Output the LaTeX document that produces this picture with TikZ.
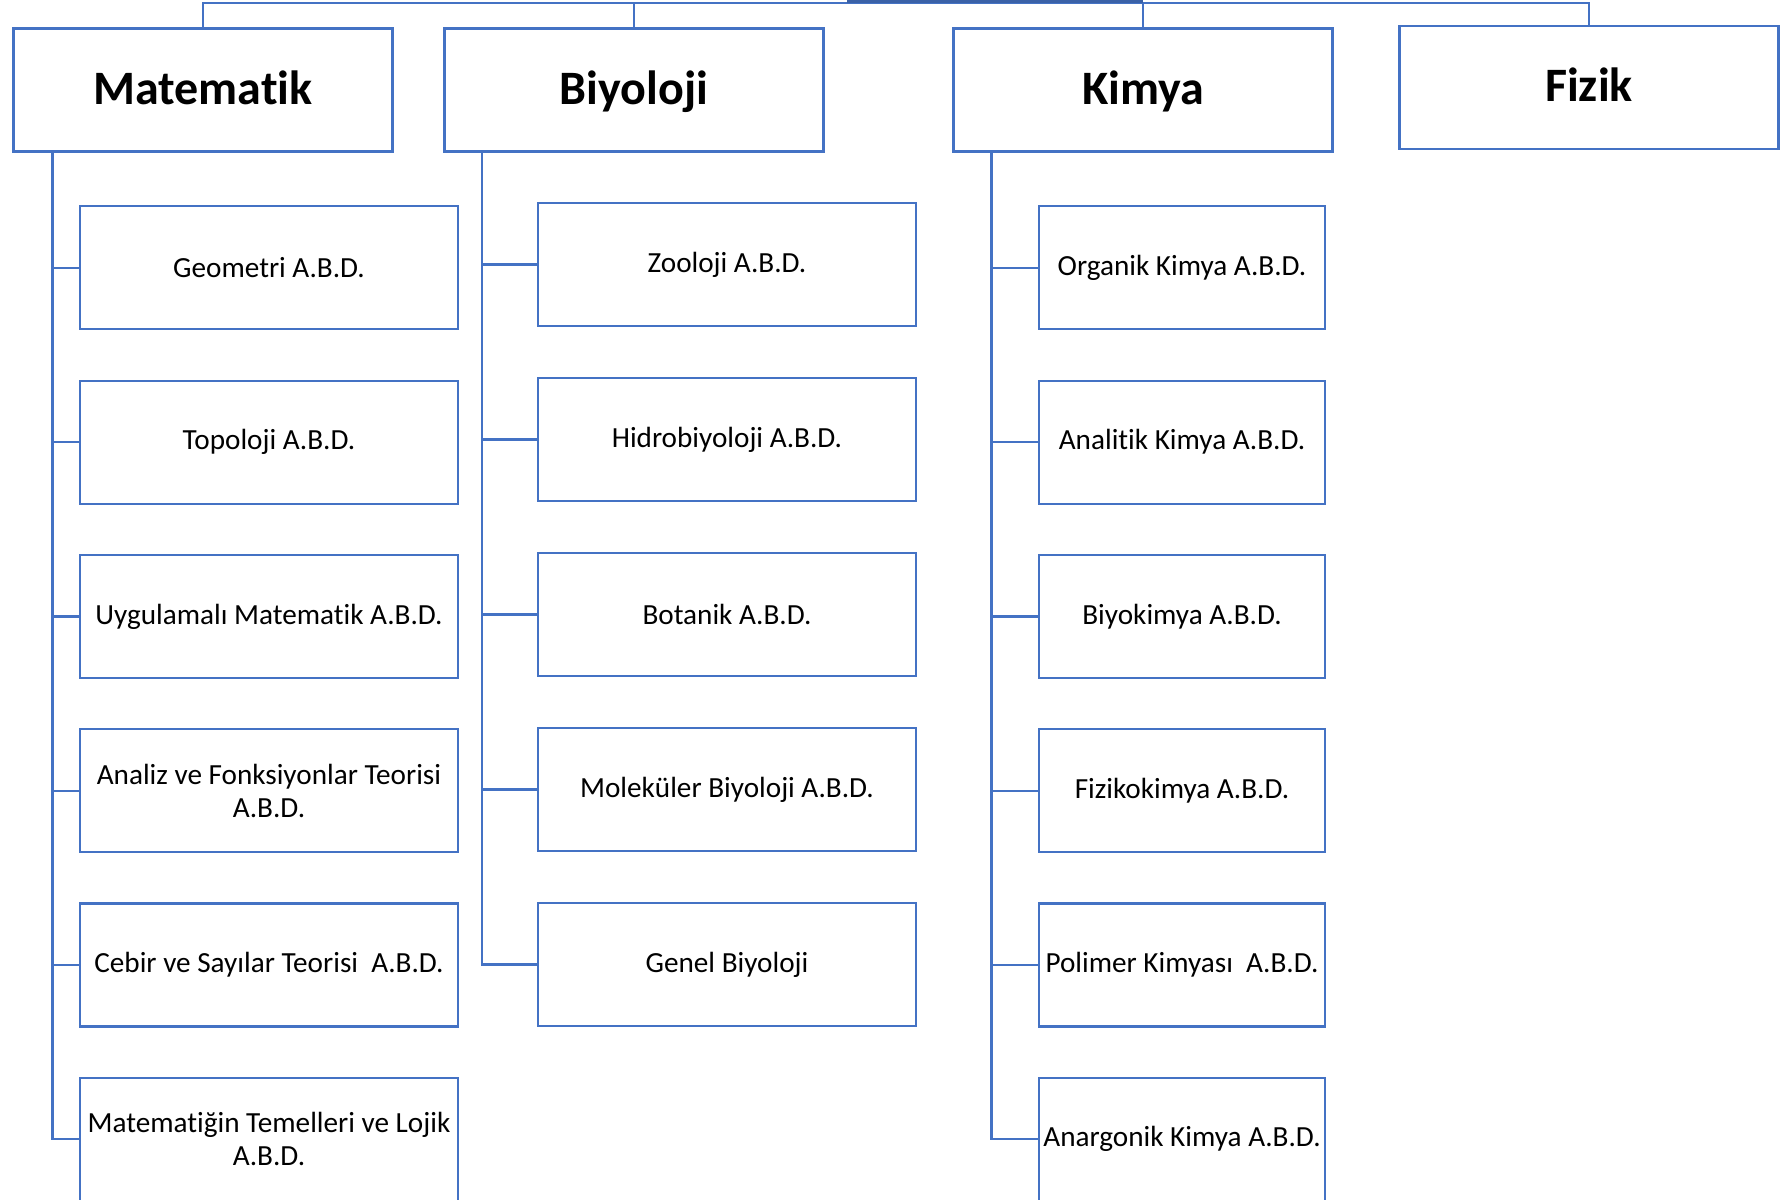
\documentclass[tikz,border=0pt]{standalone}
\usepackage{fontspec}
\setmainfont{Carlito}[Ligatures={NoCommon,NoContextual},Contextuals=NoAlternate]
\definecolor{boxblue}{HTML}{4472C4}

\begin{document}
\begin{tikzpicture}[x=0.5pt,y=-0.5pt,
    dept/.style={draw=boxblue,line width=1.1pt,fill=white,minimum width=189.5pt,minimum height=61.5pt,
      inner sep=1pt,text height=17pt,text depth=3pt,font=\fontsize{24}{28}\selectfont\bfseries},
    abd/.style={draw=boxblue,line width=1.1pt,fill=white,minimum width=189pt,minimum height=61.5pt,
      inner sep=0pt,align=center,font=\fontsize{14.6}{16.5}\selectfont},
    abdn/.style={abd,minimum width=143.3pt},
    link/.style={draw=boxblue,line width=1.1pt}]
    \useasboundingbox (0,0) rectangle (1787,1199);
    \clip (0,0) rectangle (1787,1199);
    \node[dept] (mat) at (203,90) {Matematik};
    \node[dept] (biy) at (634,90) {Biyoloji};
    \node[dept] (kim) at (1143,90) {Kimya};
    \node[dept] (fiz) at (1589,87.5) {Fizik};
    \coordinate (bus) at (0,3);
    \draw[link] (mat.north) -- (mat.north |- bus) -- (fiz.north |- bus) -- (fiz.north);
    \draw[link] (biy.north) -- (biy.north |- bus);
    \draw[link] (kim.north) -- (kim.north |- bus);
    \draw[link,line width=1.8pt,draw=boxblue!85!black] (847,1.5) -- (kim.north |- 0,1.5);

    \node[abd] (geo) at (269,267.8) {Geometri A.B.D.};
    \node[abd] (top) at (269,442.1) {Topoloji A.B.D.};
    \node[abd] (uyg) at (269,616.4) {Uygulamalı Matematik A.B.D.};
    \node[abd] (ana) at (269,790.7) {Analiz ve Fonksiyonlar Teorisi\\A.B.D.};
    \node[abd] (ceb) at (269,965) {Cebir ve Sayılar Teorisi\ \ A.B.D.};
    \node[abd] (tem) at (269,1139.3) {Matematiğin Temelleri ve Lojik\\A.B.D.};
    \coordinate (matspine) at (52.4,151.6);
    \foreach \c in {geo,top,uyg,ana,ceb,tem}
      \draw[link] (matspine) |- (\c.west);

    \node[abd] (zoo) at (727,264.4) {Zooloji A.B.D.};
    \node[abd] (hid) at (727,439.4) {Hidrobiyoloji A.B.D.};
    \node[abd] (bot) at (727,614.4) {Botanik A.B.D.};
    \node[abd] (mol) at (727,789.4) {Moleküler Biyoloji A.B.D.};
    \node[abd] (gen) at (727,964.4) {Genel Biyoloji};
    \coordinate (biyspine) at (482,151.6);
    \foreach \c in {zoo,hid,bot,mol,gen}
      \draw[link] (biyspine) |- (\c.west);

    \node[abdn] (org) at (1182,267.8) {Organik Kimya A.B.D.};
    \node[abdn] (anl) at (1182,442.1) {Analitik Kimya A.B.D.};
    \node[abdn] (bik) at (1182,616.4) {Biyokimya A.B.D.};
    \node[abdn] (fzk) at (1182,790.7) {Fizikokimya A.B.D.};
    \node[abdn] (pol) at (1182,965) {Polimer Kimyası\ \ A.B.D.};
    \node[abdn] (ang) at (1182,1139.3) {Anargonik Kimya A.B.D.};
    \coordinate (kimspine) at (991.5,151.6);
    \foreach \c in {org,anl,bik,fzk,pol,ang}
      \draw[link] (kimspine) |- (\c.west);
  \end{tikzpicture}
\end{document}
